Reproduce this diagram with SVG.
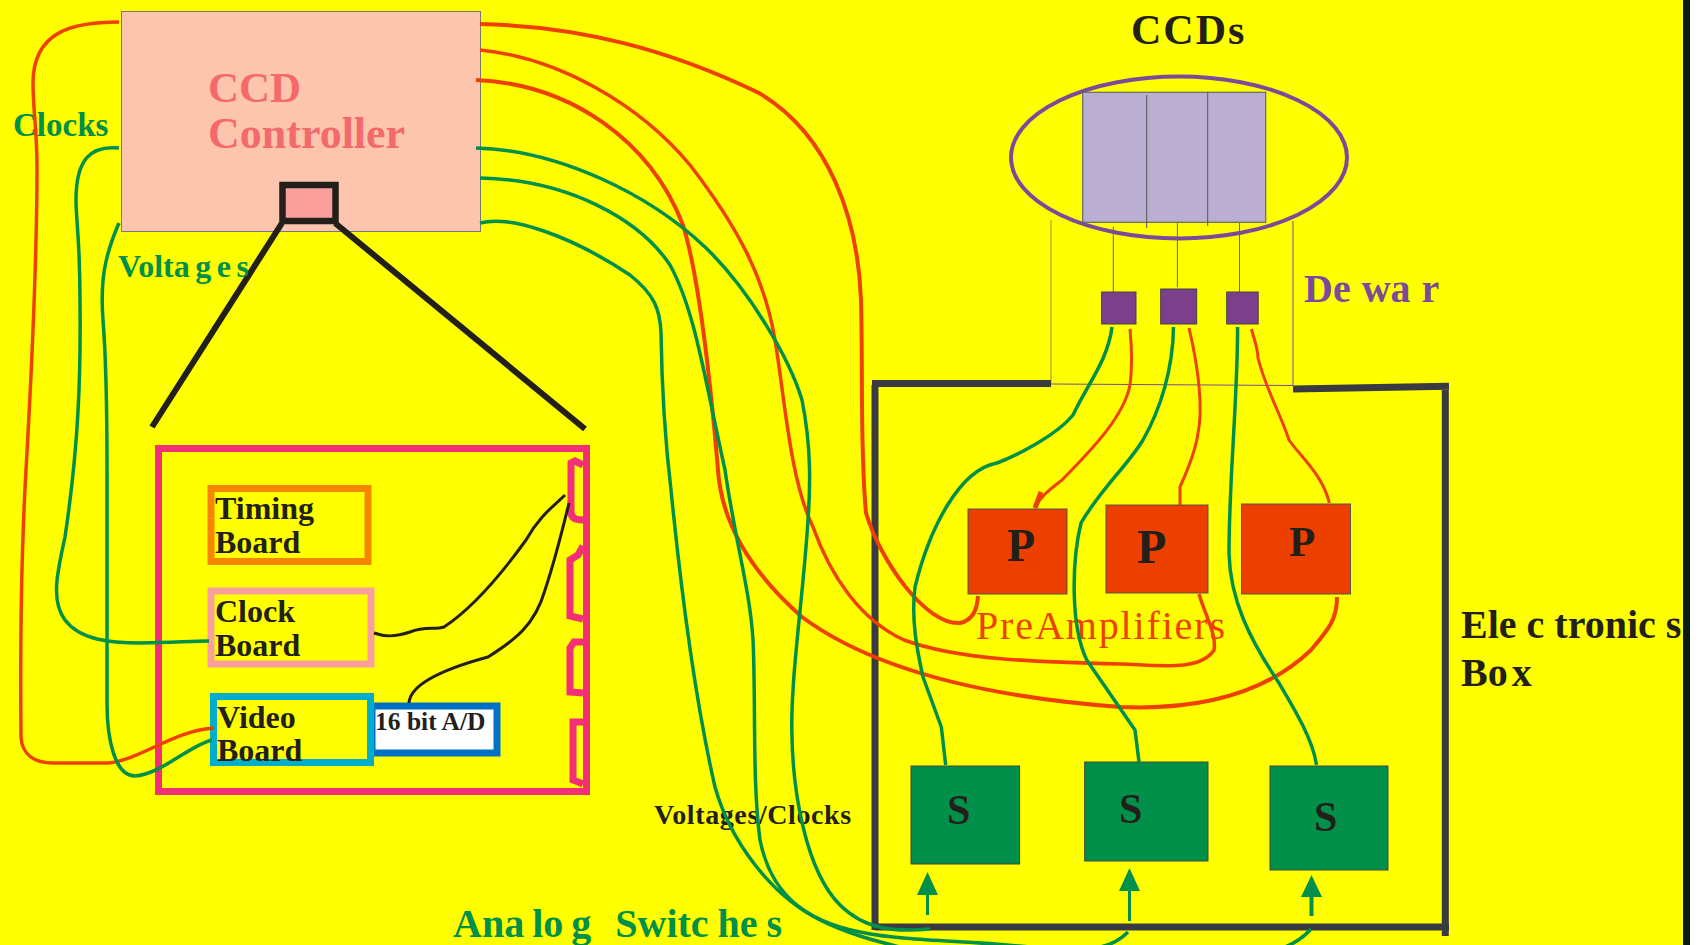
<svg xmlns="http://www.w3.org/2000/svg" width="1702" height="945" viewBox="0 0 1702 945">
<style>
text{font-family:"Liberation Serif","Times New Roman",serif;font-weight:bold;fill:#231f1a}
.g{fill:#00904a}.w{fill:none;stroke-linecap:butt;stroke-linejoin:round}
.r{stroke:#f04000}.gr{stroke:#00904a}.k{stroke:#231f1a}
.b{fill:none;stroke-width:7}
.p{fill:#ec3f00;stroke:#555;stroke-width:1}.s{fill:#00904a;stroke:#444;stroke-width:1}.v{fill:#7b3f8c;stroke:#444;stroke-width:1}
.l{fill:none;stroke-width:1}
.e{fill:none;stroke:#3a3a42;stroke-width:7}
.tg tspan,.tg{fill:#00904a}.tv tspan{fill:#7b4a9a}
</style>
<rect width="1702" height="945" fill="#fff"/>
<rect width="1683" height="945" fill="#ffff00"/>
<rect x="1683" y="0" width="7" height="945" fill="#0a1a10"/>
<g id="controller">
<rect x="121.5" y="11.5" width="359" height="220" fill="#fdc5ad" stroke="#777" stroke-width="1"/>
<text x="208" y="102" font-size="43" style="fill:#f46a6a">CCD</text>
<text x="208" y="148" font-size="44" style="fill:#f46a6a">Controller</text>
<rect x="282.5" y="185" width="53" height="36" fill="#f9a09a" stroke="#231f1a" stroke-width="6.5"/>
</g>
<g id="zoom-lines" class="k" fill="none" stroke-width="6">
<path d="M282 223L152 427M335 223L585 429"/>
</g>
<g id="board">
<rect x="158.5" y="448.5" width="428" height="343" fill="none" stroke="#f22f77" stroke-width="7"/>
<path d="M583 465L575 461L571 463V512Q571 520 583 520M583 546L578 555L570 560V616L583 619M583 642H574L570 648V692L583 693M583 722H573V780L583 784" fill="none" stroke="#f22f77" stroke-width="7"/>
</g>
<g id="timing"><rect x="211" y="488.5" width="157" height="73" stroke="#f78500" class="b"/>
<text x="215" y="518.500" font-size="32">Timing</text><text x="215" y="552.500" font-size="32">Board</text></g>
<g id="clock"><rect x="211" y="591" width="160" height="73" stroke="#f9a09a" class="b"/>
<text x="215" y="622" font-size="32">Clock</text><text x="215" y="655.500" font-size="32">Board</text></g>
<g id="ad"><rect x="372" y="706" width="125" height="47" fill="#fff" stroke="#0070c6" stroke-width="7"/>
<text x="375" y="730" font-size="25.500">16 bit A/D</text></g>
<g id="video"><rect x="213.5" y="696.5" width="157" height="66" stroke="#00aecb" class="b"/>
<text x="217" y="727.500" font-size="32">Video</text><text x="217" y="760.500" font-size="32">Board</text></g>
<g id="ccds">
<text x="1131" y="44" font-size="42" letter-spacing="2">CCDs</text>
<ellipse cx="1179" cy="157.5" rx="168" ry="81" fill="none" stroke="#7b4a9a" stroke-width="4"/>
<rect x="1082.7" y="92.3" width="183" height="130" fill="#bbaed3" stroke="#666" stroke-width="1.2"/>
<path d="M1146.700 95V228M1207.700 92V226" stroke="#555" stroke-width="1" fill="none"/>
</g>
<g id="dewar">
<path d="M1113.300 226.700V292M1177.400 223V287M1239.500 223V292M1293 221V385M1051 384L1293 385.500" class="l" stroke="#7b4a9a"/>
<path d="M1051 220V384" class="l" stroke="#a59050" stroke-width="1.5"/>
<text x="1304" y="302" font-size="40" class="tv"><tspan>De</tspan><tspan dx="11">wa</tspan><tspan dx="11">r</tspan></text>
</g>
<g id="amp1"><rect x="1101.5" y="292" width="34.5" height="32" class="v"/></g>
<g id="amp2"><rect x="1160.7" y="289" width="36" height="35" class="v"/></g>
<g id="amp3"><rect x="1226.7" y="292" width="31.5" height="32" class="v"/></g>
<g id="electronics-box">
<path d="M1051 383.500H872M875 385V930M875 927H1449M1445.300 936V386M1449 386.300L1293 389" class="e"/>
<text x="1461" y="638" font-size="40"><tspan>Ele</tspan><tspan dx="10">c</tspan><tspan dx="10">tronic</tspan><tspan dx="10">s</tspan></text>
<text x="1461" y="686" font-size="40"><tspan>Bo</tspan><tspan dx="4">x</tspan></text>
</g>
<g id="p1"><rect x="968" y="509" width="99" height="85" class="p"/><text x="1007" y="561" font-size="46">P</text></g>
<g id="p2"><rect x="1106" y="505" width="102" height="88" class="p"/><text x="1137" y="563" font-size="48">P</text></g>
<g id="p3"><rect x="1241.5" y="504" width="109" height="90" class="p"/><text x="1289" y="556" font-size="43">P</text></g>
<g id="s1"><rect x="911" y="766" width="108.6" height="98" class="s"/><text x="947" y="824" font-size="42">S</text></g>
<g id="s2"><rect x="1084.7" y="762" width="123.3" height="99" class="s"/><text x="1119" y="823" font-size="42">S</text></g>
<g id="s3"><rect x="1270" y="766" width="118" height="104" class="s"/><text x="1314" y="831" font-size="42">S</text></g>
<text x="976" y="639" font-size="40" textLength="249" lengthAdjust="spacing" style="font-weight:normal;fill:#f04000">PreAmplifiers</text>
<text x="13" y="136" font-size="33" class="tg">Clocks</text>
<text x="118" y="277" font-size="32" class="tg"><tspan>Volta</tspan><tspan dx="5.500">g</tspan><tspan dx="5.500">e</tspan><tspan dx="5.500">s</tspan></text>
<text x="654" y="824" font-size="28" letter-spacing="0.6">Voltages/Clocks</text>
<text x="453" y="937" font-size="40" class="tg"><tspan>Ana</tspan><tspan dx="8">lo</tspan><tspan dx="8">g</tspan><tspan dx="24">Switc</tspan><tspan dx="9">he</tspan><tspan dx="9">s</tspan></text>
<g id="connectors" class="w">
<g class="r" fill="none">
<path stroke-width="4" d="M480 24C580 26 670 50 759 93C830 135 858 220 861 300C863 380 860 450 866 513C880 560 925 625 960 623C973 620 977 610 978 596"/>
<path stroke-width="3.5" d="M480 50C560 58 640 105 690 165C740 230 765 280 775 340C785 400 790 480 813 527C830 575 860 620 904 640C958 660 1037 662 1121 664C1156 665 1200 672 1214 650C1217 635 1205 615 1199 594"/>
<path stroke-width="4" d="M476 80C570 84 650 140 683 225C700 280 712 400 718 470C722 530 760 580 802 617C860 660 958 695 1121 707C1195 710 1264 695 1311 650C1328 630 1337 620 1337 597"/>
<path stroke-width="3.500" d="M119 22C75 22 33 30 33 83C33 110 37 130 37 167C37 260 30 400 26 470C22 540 20 640 21 737C22 755 35 763 54 763L108 763C140 760 175 730 214 728"/>
<path stroke-width="3" d="M1130 329C1132 350 1132 370 1130 385C1124 415 1096.500 445 1062 480C1049 490 1042 495 1034.500 508"/>
<path stroke-width="5" d="M1041 492L1035 508"/>
<path stroke-width="3" d="M1189 328C1199 370 1203 410 1198 433C1195 455 1185 475 1180 487V505"/>
<path stroke-width="3" d="M1251.400 329C1256 345 1258 350 1258 358C1266 390 1279 410 1289 440C1299 455 1323 475 1329.300 503"/>
</g>
<g class="gr" fill="none">
<path stroke-width="3.500" d="M476 148C560 150 650 195 705 247C750 290 790 360 802 400C812 450 810 490 808 520C803 600 790 680 792 737C793 790 805 870 840 905C865 930 895 932 930 929"/>
<path stroke-width="3.500" d="M480 178C570 180 640 220 670 265C695 310 705 380 725 470C735 540 750 590 753 640C756 700 752 780 760 840C770 890 800 920 860 932C910 942 960 940 1030 947"/>
<path stroke-width="3.500" d="M480 223C510 215 570 235 630 275C655 295 660 310 661 333C662 400 665 440 671 490C680 580 695 700 715 787C730 840 770 895 820 920C850 935 880 942 900 947"/>
<path stroke-width="3.500" d="M1128 932C1120 940 1110 945 1100 947M1311 929C1303 938 1295 943 1285 947"/>
<path stroke-width="3.500" d="M119 148C90 145 76 160 76 200C76 220 80 240 80 300C81 380 78 450 65 537C58 570 50 600 65 620C80 640 110 643 141 643C170 643 190 641 209 641"/>
<path stroke-width="3.500" d="M119 223C105 255 100 280 103 320C107 370 107 420 107 470L107 703C107 740 115 776 135 776C160 775 190 745 212 740"/>
<path stroke-width="3.500" d="M1112 327C1108 360 1087 385 1073 415C1057 435 1017.700 455 997 463C958.500 470 929 530 915 587C911 620 917 650 923 677L941.300 727L945.700 765"/>
<path stroke-width="3.500" d="M1173.500 327C1173 370 1160 410 1143 440C1128 465 1100 490 1081 523C1072 560 1070 625 1086.700 660L1135 730L1139 762"/>
<path stroke-width="3.500" d="M1237.600 327C1237.600 400 1229 480 1229 553C1230 600 1250 640 1279 683C1295 710 1313 740 1316.500 765"/>
</g>
<g class="k" fill="none">
<path stroke-width="3" d="M374 633C385 637 395 637 410 632C425 626 435 630 444 627C462 615 490 590 526 540C540 515 555 505 565 495"/>
<path stroke-width="3" d="M409 703C410 685 440 670 488 657C515 640 535 625 545 590C555 560 560 540 569 503"/>
</g>
<g class="gr" fill="none" stroke-width="3">
<path d="M927.500 895V915"/><path d="M1129.500 891V921"/><path d="M1311.500 897V916" stroke-width="4"/>
</g>
<path class="g" d="M927.500 872L917 895H938ZM1129.500 868L1119 891H1140ZM1311.500 875L1301 897H1322Z"/>
</g>
</svg>
